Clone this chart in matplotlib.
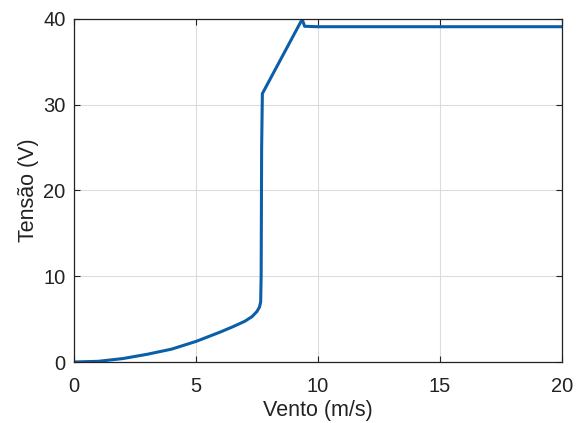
import matplotlib
matplotlib.use("Agg")
import matplotlib.pyplot as plt

wind = [0, 1, 2, 3, 4, 5, 6, 6.5, 7, 7.3, 7.5, 7.6, 7.65, 7.67, 7.69, 7.72, 9.3, 9.36, 9.45, 10, 15, 20]
volt = [0, 0.08, 0.4, 0.9, 1.5, 2.4, 3.5, 4.1, 4.75, 5.3, 5.9, 6.4, 7.0, 10, 25, 31.3, 39.7, 39.9, 39.15, 39.1, 39.1, 39.1]

plt.rcParams['font.family'] = ['Liberation Sans', 'DejaVu Sans']

fig = plt.figure(figsize=(5.85, 4.23), dpi=100)
ax = fig.add_axes([74/585, 1-362/423, (562-74)/585, (362-19)/423])
ax.plot(wind, volt, color='#0b5ea8', lw=2.2, solid_joinstyle='round')
ax.set_xlim(0, 20)
ax.set_ylim(0, 40)
ax.set_xticks([0, 5, 10, 15, 20])
ax.set_yticks([0, 10, 20, 30, 40])
ax.grid(True, color='#dcdcdc', lw=0.8)
ax.set_axisbelow(True)
ax.tick_params(direction='in', top=True, right=True, labelsize=14.5, length=4, width=0.8, colors='#222222')
ax.tick_params(axis='x', pad=11)
ax.tick_params(axis='y', pad=6)
for s in ax.spines.values():
    s.set_color('#222222')
    s.set_linewidth(0.9)
ax.set_xlabel('Vento (m/s)', fontsize=15.5, color='#222222', labelpad=3)
ax.set_ylabel('Tensão (V)', fontsize=15.5, color='#222222', labelpad=3)
fig.savefig('out.png', dpi=100)
